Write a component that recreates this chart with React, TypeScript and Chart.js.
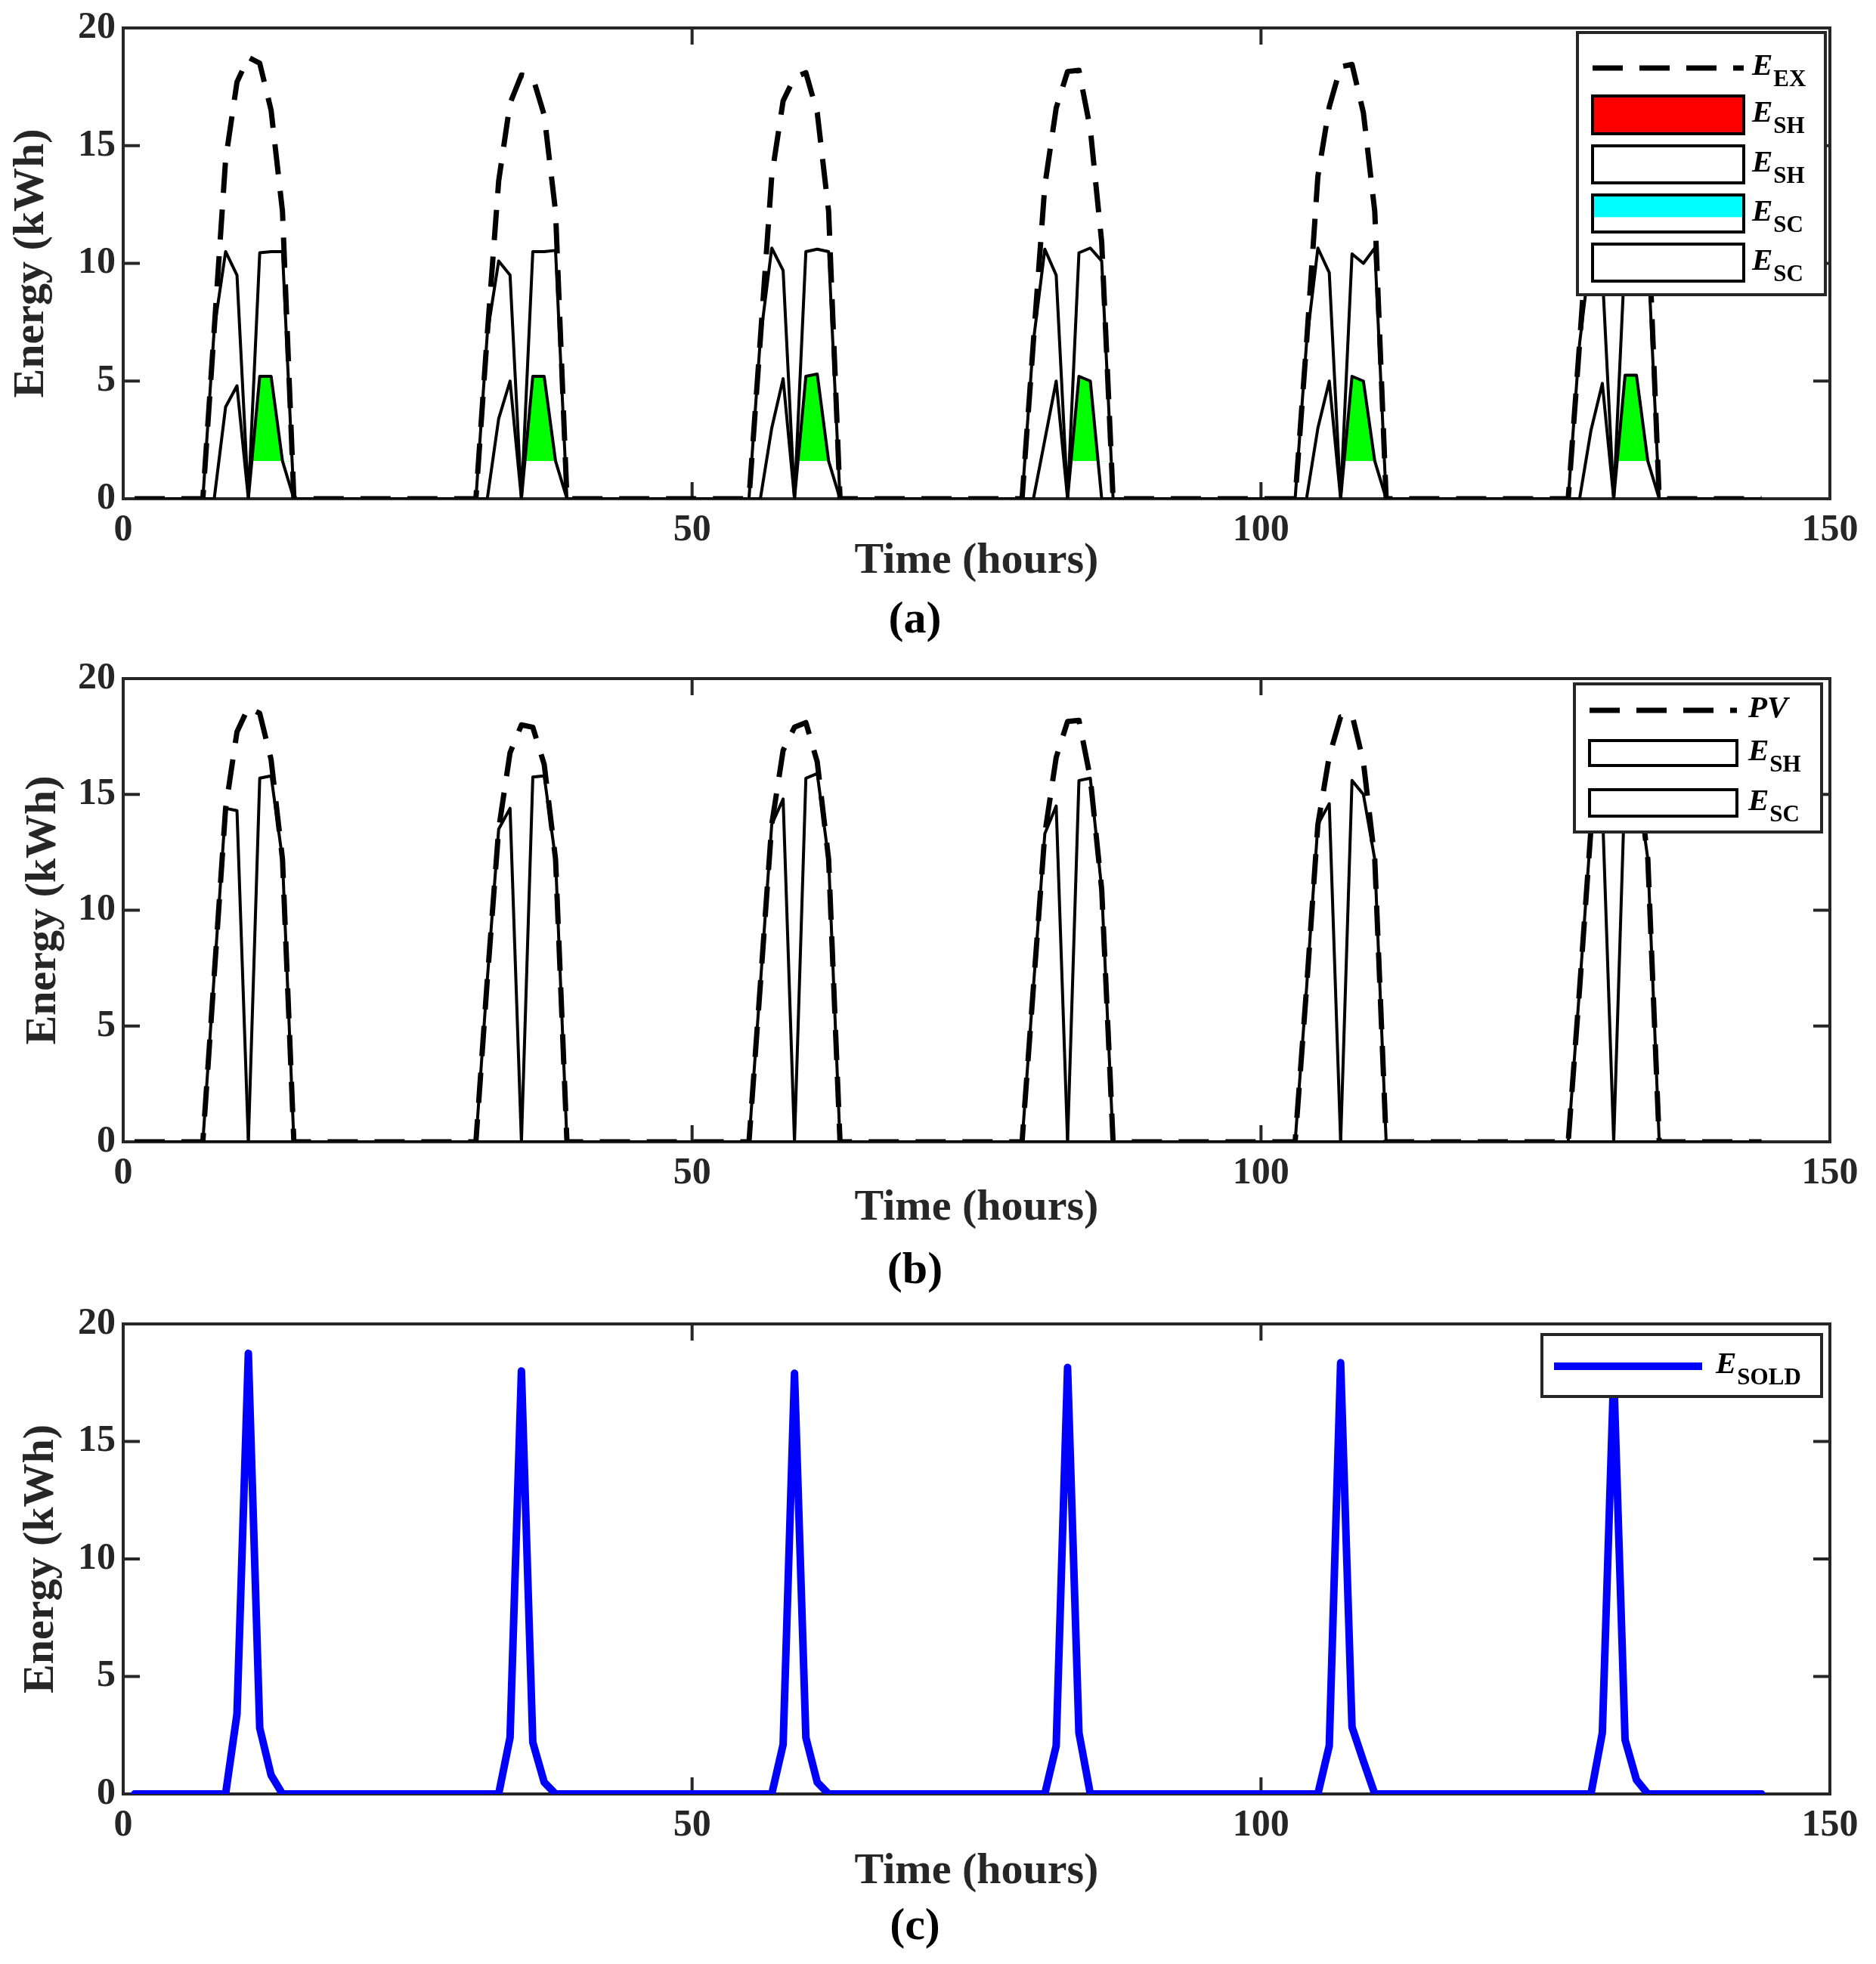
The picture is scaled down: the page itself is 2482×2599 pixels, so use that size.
import React, { useEffect, useRef } from 'react';
import { Chart, registerables } from 'chart.js';

Chart.register(...registerables);

// ---------------- data ----------------
const FIRST_HOUR = 1;
const LAST_HOUR = 144;
const HOURS_PER_DAY = 24;
const PROFILE_START = 7; // hour-of-day of first sample in the daily profiles below (7..15)

// E_EX (panel a) and PV (panel b) – daily profiles, hours 7..15
const PV_BY_DAY = [
  [0, 7.2, 14.4, 17.7, 18.75, 18.5, 16.5, 12.2, 0],
  [0, 7.0, 13.5, 16.8, 18.0, 17.9, 16.3, 12.2, 0],
  [0, 6.8, 13.7, 16.9, 17.9, 18.1, 16.4, 12.2, 0],
  [0, 6.7, 13.3, 16.6, 18.15, 18.2, 15.7, 10.9, 0],
  [0, 6.6, 13.7, 16.65, 18.35, 18.45, 16.4, 12.2, 0],
  [0, 6.6, 13.5, 17.1, 17.9, 18.0, 16.4, 12.2, 0],
];

// panel a, outer solid line (E_SH), hours 7..15
const ESH_A_BY_DAY = [
  [0, 7.2, 10.5, 9.5, 0, 10.45, 10.5, 10.5, 0],
  [0, 7.0, 10.1, 9.5, 0, 10.5, 10.5, 10.55, 0],
  [0, 6.8, 10.65, 9.7, 0, 10.5, 10.6, 10.5, 0],
  [0, 6.7, 10.6, 9.5, 0, 10.45, 10.65, 10.1, 0],
  [0, 6.6, 10.65, 9.6, 0, 10.4, 10.0, 10.65, 0],
  [0, 6.6, 10.6, 9.6, 0, 10.5, 10.5, 10.5, 0],
];

// panel a, inner solid line (E_SC), hours 7..15
const ESC_A_BY_DAY = [
  [0, 0, 3.9, 4.8, 0, 5.2, 5.2, 1.6, 0],
  [0, 0, 3.4, 5.0, 0, 5.2, 5.2, 1.6, 0],
  [0, 0, 3.0, 5.1, 0, 5.2, 5.3, 1.6, 0],
  [0, 0, 2.5, 5.0, 0, 5.2, 5.0, 0, 0],
  [0, 0, 3.0, 5.0, 0, 5.2, 5.0, 1.6, 0],
  [0, 0, 2.9, 4.9, 0, 5.25, 5.25, 1.6, 0],
];

// green shaded part of E_SC in panel a: hours 11..15, above this level
const GREEN_START = 11;
const GREEN_END = 15;
const GREEN_BASE = 1.6;

// panel b, E_SH (morning hump, hours 7..11)
const ESH_B_START = 7;
const ESH_B_BY_DAY = [
  [0, 7.2, 14.4, 14.3, 0],
  [0, 7.0, 13.5, 14.4, 0],
  [0, 6.8, 13.7, 14.8, 0],
  [0, 6.7, 13.3, 14.5, 0],
  [0, 6.6, 13.7, 14.6, 0],
  [0, 6.6, 13.5, 14.5, 0],
];

// panel b, E_SC (afternoon hump, hours 11..15)
const ESC_B_START = 11;
const ESC_B_BY_DAY = [
  [0, 15.7, 15.8, 12.2, 0],
  [0, 15.75, 15.8, 12.2, 0],
  [0, 15.7, 15.9, 12.2, 0],
  [0, 15.6, 15.7, 10.9, 0],
  [0, 15.6, 15.0, 12.2, 0],
  [0, 15.7, 15.8, 12.2, 0],
];

// panel c, E_SOLD, hours 7..15
const SOLD_BY_DAY = [
  [0, 0, 0, 3.4, 18.75, 2.8, 0.8, 0, 0],
  [0, 0, 0, 2.4, 18.0, 2.2, 0.5, 0, 0],
  [0, 0, 0, 2.1, 17.9, 2.4, 0.5, 0, 0],
  [0, 0, 0, 2.05, 18.15, 2.6, 0, 0, 0],
  [0, 0, 0, 2.05, 18.35, 2.85, 1.4, 0, 0],
  [0, 0, 0, 2.6, 17.9, 2.3, 0.6, 0, 0],
];

const X_MIN = 0;
const X_MAX = 150;
const X_STEP = 50;
const Y_MIN = 0;
const Y_MAX = 20;
const Y_STEP = 5;

// ---------------- helpers ----------------
type Pt = { x: number; y: number | null };

function expand(days: number[][], start: number): Pt[] {
  const pts: Pt[] = [];
  for (let h = FIRST_HOUR; h <= LAST_HOUR; h++) {
    const d = Math.floor(h / HOURS_PER_DAY);
    const k = h % HOURS_PER_DAY;
    let y = 0;
    if (d < days.length && k >= start && k < start + days[d].length) y = days[d][k - start];
    pts.push({ x: h, y });
  }
  return pts;
}

function windowed(days: number[][], start: number, from: number, to: number): Pt[] {
  const pts: Pt[] = [];
  for (let h = FIRST_HOUR; h <= LAST_HOUR; h++) {
    const d = Math.floor(h / HOURS_PER_DAY);
    const k = h % HOURS_PER_DAY;
    let y: number | null = null;
    if (d < days.length && k >= from && k <= to) y = days[d][k - start];
    pts.push({ x: h, y });
  }
  return pts;
}

// ---------------- styling ----------------
const FONT = '"Liberation Serif", "Times New Roman", serif';
const AXIS_COLOR = '#262626';
const TICK_LEN = 22;
const DASH = [40, 22];
const W = 2482;
const PLOT_RIGHT = 2421;
const Y_AXIS_W = 163;

const framePlugin = {
  id: 'frameTicks',
  beforeDatasetsDraw(chart: any) {
    const { ctx, chartArea } = chart;
    const { left, right, top, bottom } = chartArea;
    const xs = chart.scales.x;
    const ys = chart.scales.y;
    ctx.save();
    ctx.strokeStyle = AXIS_COLOR;
    ctx.lineWidth = 4;
    ctx.setLineDash([]);
    ctx.strokeRect(left, top, right - left, bottom - top);
    ctx.beginPath();
    for (const t of xs.ticks) {
      const px = xs.getPixelForValue(t.value);
      ctx.moveTo(px, bottom);
      ctx.lineTo(px, bottom - TICK_LEN);
      ctx.moveTo(px, top);
      ctx.lineTo(px, top + TICK_LEN);
    }
    for (const t of ys.ticks) {
      const py = ys.getPixelForValue(t.value);
      ctx.moveTo(left, py);
      ctx.lineTo(left + TICK_LEN, py);
      ctx.moveTo(right, py);
      ctx.lineTo(right - TICK_LEN, py);
    }
    ctx.stroke();
    ctx.restore();
  },
};

type LegendItem = {
  kind: 'dash' | 'line' | 'box';
  cy?: number;
  top?: number;
  bottom?: number;
  fill?: string;
  fillFrac?: number;
  color?: string;
  width?: number;
  main: string;
  sub: string;
};
type LegendSpec = { box: number[]; x0: number; x1: number; textX: number; items: LegendItem[] };

function makeLegendPlugin(spec: LegendSpec) {
  return {
    id: 'boxLegend',
    afterDatasetsDraw(chart: any) {
      const { ctx } = chart;
      const [l, t, r, b] = spec.box;
      ctx.save();
      ctx.setLineDash([]);
      ctx.fillStyle = '#FFFFFF';
      ctx.fillRect(l, t, r - l, b - t);
      ctx.lineWidth = 4;
      ctx.strokeStyle = AXIS_COLOR;
      ctx.strokeRect(l, t, r - l, b - t);
      for (const it of spec.items) {
        let cy = 0;
        if (it.kind === 'box') {
          const top = it.top as number;
          const bottom = it.bottom as number;
          cy = (top + bottom) / 2;
          ctx.fillStyle = '#FFFFFF';
          ctx.fillRect(spec.x0, top, spec.x1 - spec.x0, bottom - top);
          if (it.fill) {
            ctx.fillStyle = it.fill;
            ctx.fillRect(spec.x0, top, spec.x1 - spec.x0, (bottom - top) * (it.fillFrac ?? 1));
          }
          ctx.lineWidth = 4;
          ctx.strokeStyle = '#000000';
          ctx.strokeRect(spec.x0, top, spec.x1 - spec.x0, bottom - top);
        } else {
          cy = it.cy as number;
          ctx.beginPath();
          ctx.setLineDash(it.kind === 'dash' ? DASH : []);
          ctx.lineCap = 'butt';
          ctx.lineWidth = it.width ?? 7;
          ctx.strokeStyle = it.color ?? '#000000';
          ctx.moveTo(spec.x0, cy);
          ctx.lineTo(spec.x1, cy);
          ctx.stroke();
          ctx.setLineDash([]);
        }
        ctx.fillStyle = '#000000';
        ctx.textAlign = 'left';
        ctx.textBaseline = 'alphabetic';
        ctx.font = `italic bold 41px ${FONT}`;
        ctx.fillText(it.main, spec.textX, cy + 9);
        const w = ctx.measureText(it.main).width;
        if (it.sub) {
          ctx.font = `bold 31px ${FONT}`;
          ctx.fillText(it.sub, spec.textX + w + 1, cy + 24);
        }
      }
      ctx.restore();
    },
  };
}

type PanelLayout = {
  padTop: number;
  padBottom: number;
  xAxisH: number;
  yTitlePad: number;
  titlePadTop: number;
  label: string;
};

function makeConfig(p: PanelLayout, datasets: any[], legend: LegendSpec) {
  return {
    type: 'line',
    data: { datasets },
    options: {
      responsive: false,
      animation: false,
      devicePixelRatio: 1,
      events: [],
      layout: { padding: { top: p.padTop, right: W - PLOT_RIGHT, bottom: p.padBottom, left: 0 } },
      elements: { point: { radius: 0, hoverRadius: 0 }, line: { tension: 0 } },
      scales: {
        x: {
          type: 'linear',
          min: X_MIN,
          max: X_MAX,
          ticks: {
            stepSize: X_STEP,
            autoSkip: false,
            maxRotation: 0,
            padding: 12,
            color: AXIS_COLOR,
            font: { family: FONT, size: 50, weight: 'bold', lineHeight: 1.2 },
          },
          grid: { display: false, drawTicks: false },
          border: { display: false },
          title: {
            display: true,
            text: 'Time (hours)',
            color: AXIS_COLOR,
            font: { family: FONT, size: 58, weight: 'bold', lineHeight: 1.2 },
            padding: { top: 0, bottom: 0 },
          },
          afterFit: (s: any) => {
            s.height = p.xAxisH;
            s.paddingLeft = 0;
            s.paddingRight = 0;
            s.paddingTop = 0;
            s.paddingBottom = 0;
          },
        },
        y: {
          type: 'linear',
          min: Y_MIN,
          max: Y_MAX,
          ticks: {
            stepSize: Y_STEP,
            padding: 10,
            color: AXIS_COLOR,
            font: { family: FONT, size: 50, weight: 'bold', lineHeight: 0.05 },
          },
          grid: { display: false, drawTicks: false },
          border: { display: false },
          title: {
            display: true,
            text: 'Energy (kWh)',
            color: AXIS_COLOR,
            font: { family: FONT, size: 58, weight: 'bold', lineHeight: 1.2 },
            padding: { top: p.yTitlePad, bottom: 0 },
          },
          afterFit: (s: any) => {
            s.width = Y_AXIS_W;
            s.paddingTop = 0;
            s.paddingBottom = 0;
            s.paddingLeft = 0;
            s.paddingRight = 0;
          },
        },
      },
      plugins: {
        legend: { display: false },
        tooltip: { enabled: false },
        title: {
          display: true,
          text: p.label,
          position: 'bottom',
          color: '#000000',
          font: { family: FONT, size: 60, weight: 'bold', lineHeight: 1.2 },
          padding: { top: p.titlePadTop, bottom: 0 },
        },
      },
    },
    plugins: [framePlugin, makeLegendPlugin(legend)],
  };
}

const dashedLine = (label: string, data: Pt[]) => ({
  label,
  data,
  borderColor: '#000000',
  backgroundColor: 'rgba(0,0,0,0)',
  borderWidth: 7,
  borderDash: DASH,
  borderCapStyle: 'butt',
  borderJoinStyle: 'round',
  fill: false,
  pointRadius: 0,
  order: 0,
});

const thinLine = (label: string, data: Pt[]) => ({
  label,
  data,
  borderColor: '#000000',
  backgroundColor: 'rgba(0,0,0,0)',
  borderWidth: 4,
  borderJoinStyle: 'round',
  fill: false,
  pointRadius: 0,
  order: 1,
});

// ---------------- panels ----------------
const LAYOUT_A: PanelLayout = { padTop: 37, padBottom: 3, xAxisH: 117.8, yTitlePad: 7.2, titlePadTop: 7.2, label: '(a)' };
const LAYOUT_B: PanelLayout = { padTop: 40, padBottom: 12, xAxisH: 122.8, yTitlePad: 23.2, titlePadTop: 12.2, label: '(b)' };
const LAYOUT_C: PanelLayout = { padTop: 22, padBottom: 3, xAxisH: 137.8, yTitlePad: 20.2, titlePadTop: 2.2, label: '(c)' };

const LEGEND_A: LegendSpec = {
  box: [2087, 43, 2415, 390],
  x0: 2107,
  x1: 2307,
  textX: 2318,
  items: [
    { kind: 'dash', cy: 90, width: 7, main: 'E', sub: 'EX' },
    { kind: 'box', top: 127, bottom: 177, fill: '#FF0000', main: 'E', sub: 'SH' },
    { kind: 'box', top: 193, bottom: 242, main: 'E', sub: 'SH' },
    { kind: 'box', top: 258, bottom: 307, fill: '#00FFFF', fillFrac: 0.6, main: 'E', sub: 'SC' },
    { kind: 'box', top: 323, bottom: 372, main: 'E', sub: 'SC' },
  ],
};

const LEGEND_B: LegendSpec = {
  box: [2083, 47, 2410, 243],
  x0: 2103,
  x1: 2298,
  textX: 2313,
  items: [
    { kind: 'dash', cy: 82, width: 7, main: 'PV', sub: '' },
    { kind: 'box', top: 122, bottom: 155, main: 'E', sub: 'SH' },
    { kind: 'box', top: 187, bottom: 222, main: 'E', sub: 'SC' },
  ],
};

const LEGEND_C: LegendSpec = {
  box: [2040, 36, 2410, 118],
  x0: 2056,
  x1: 2252,
  textX: 2270,
  items: [{ kind: 'line', cy: 78, width: 10, color: '#0000FF', main: 'E', sub: 'SOLD' }],
};

const CANVAS_A = { top: 0, height: 860 };
const CANVAS_B = { top: 858, height: 872 };
const CANVAS_C = { top: 1730, height: 859 };

export default function App() {
  const refA = useRef<HTMLCanvasElement | null>(null);
  const refB = useRef<HTMLCanvasElement | null>(null);
  const refC = useRef<HTMLCanvasElement | null>(null);

  useEffect(() => {
    document.body.style.margin = '0';
    document.body.style.overflow = 'hidden';
    document.body.style.background = '#FFFFFF';

    const greenData = windowed(ESC_A_BY_DAY, PROFILE_START, GREEN_START, GREEN_END);

    const dsA = [
      {
        label: 'E_SC area',
        data: greenData,
        borderColor: 'rgba(0,0,0,0)',
        backgroundColor: '#00FF00',
        borderWidth: 0,
        pointRadius: 0,
        spanGaps: false,
        fill: { target: { value: GREEN_BASE }, above: '#00FF00', below: 'rgba(0,0,0,0)' },
        order: 10,
      },
      thinLine('E_SC', expand(ESC_A_BY_DAY, PROFILE_START)),
      thinLine('E_SH', expand(ESH_A_BY_DAY, PROFILE_START)),
      dashedLine('E_EX', expand(PV_BY_DAY, PROFILE_START)),
    ];

    const dsB = [
      thinLine('E_SH', expand(ESH_B_BY_DAY, ESH_B_START)),
      thinLine('E_SC', expand(ESC_B_BY_DAY, ESC_B_START)),
      dashedLine('PV', expand(PV_BY_DAY, PROFILE_START)),
    ];

    const dsC = [
      {
        label: 'E_SOLD',
        data: expand(SOLD_BY_DAY, PROFILE_START),
        borderColor: '#0000FF',
        backgroundColor: 'rgba(0,0,0,0)',
        borderWidth: 10,
        borderJoinStyle: 'round',
        borderCapStyle: 'round',
        fill: false,
        pointRadius: 0,
      },
    ];

    const charts: Chart[] = [];
    if (refA.current) charts.push(new Chart(refA.current, makeConfig(LAYOUT_A, dsA, LEGEND_A) as any));
    if (refB.current) charts.push(new Chart(refB.current, makeConfig(LAYOUT_B, dsB, LEGEND_B) as any));
    if (refC.current) charts.push(new Chart(refC.current, makeConfig(LAYOUT_C, dsC, LEGEND_C) as any));
    return () => {
      charts.forEach((c) => c.destroy());
    };
  }, []);

  const cStyle = (top: number, height: number): React.CSSProperties => ({
    position: 'absolute',
    left: 0,
    top,
    width: W,
    height,
    display: 'block',
  });

  return (
    <div style={{ position: 'absolute', left: 0, top: 0, width: W, height: 2599, background: '#FFFFFF', overflow: 'hidden' }}>
      <canvas ref={refA} width={W} height={CANVAS_A.height} style={cStyle(CANVAS_A.top, CANVAS_A.height)} />
      <canvas ref={refB} width={W} height={CANVAS_B.height} style={cStyle(CANVAS_B.top, CANVAS_B.height)} />
      <canvas ref={refC} width={W} height={CANVAS_C.height} style={cStyle(CANVAS_C.top, CANVAS_C.height)} />
    </div>
  );
}
